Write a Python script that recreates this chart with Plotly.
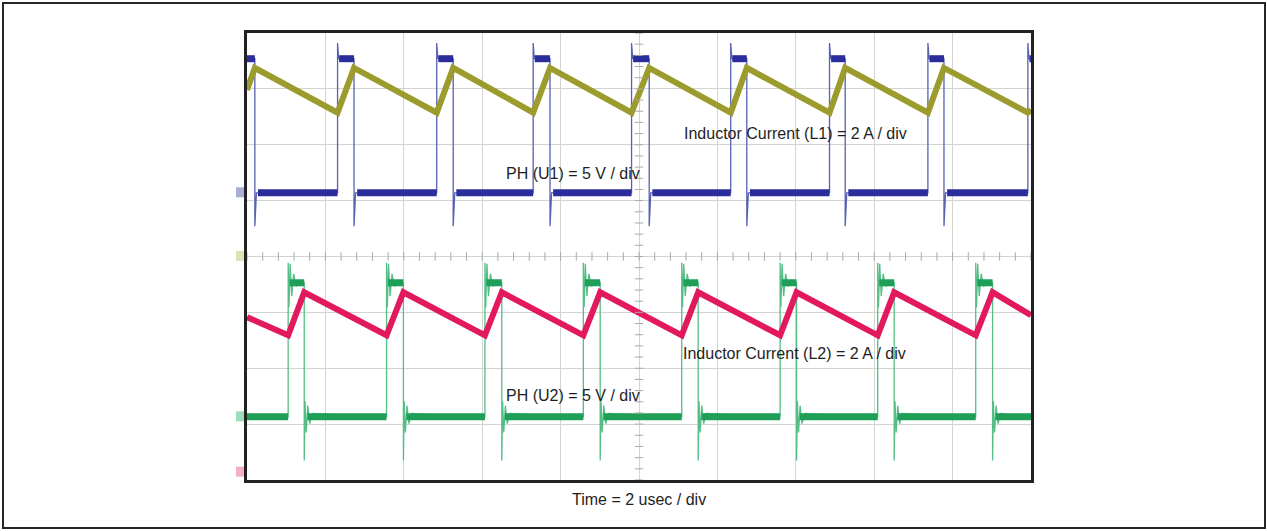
import numpy as np
import plotly.graph_objects as go

# ---- Time base: 2 us/div, 10 divisions -------------------------------------
T_SPAN_US = 20.0
N_XDIV, N_YDIV = 10, 8

# ---- Channel scales and ground-reference offsets (divisions from centre) ---
PH_VOLTS_PER_DIV = 5.0
IL_AMPS_PER_DIV = 2.0
U1_OFFSET_DIV = 1.14
L1_OFFSET_DIV = 0.0
U2_OFFSET_DIV = -2.87
L2_OFFSET_DIV = -3.86

# ---- Phase node U1: switching edges (us) and levels (V) --------------------
u1_rise_us = [2.31, 4.84, 7.30, 9.81, 12.34, 14.86, 17.37, 19.92]
u1_fall_us = [0.20, 2.73, 5.26, 7.73, 10.26, 12.75, 15.26, 17.78]
u1_low_v, u1_high_v = 0.0, 12.0
u1_spike_v, u1_undershoot_v = 13.4, -3.0

# ---- Phase node U2: switching edges (us) and levels (V) --------------------
u2_rise_us = [1.05, 3.56, 6.07, 8.58, 11.09, 13.60, 16.09, 18.59]
u2_fall_us = [1.46, 3.99, 6.50, 9.01, 11.51, 14.02, 16.51, 19.02]
u2_low_v, u2_high_v = 0.0, 12.0
u2_spike_v, u2_undershoot_v = 13.8, -3.9
# ringing after each edge: time after edge (us) and deviation from level (V)
u2_ring_dt_us = [0.02, 0.05, 0.09, 0.14, 0.20]
u2_ring_rise_v = [-2.2, 1.7, -1.2, 0.8, -0.3]
u2_ring_fall_v = [1.4, -1.4, 1.0, -0.6, 0.3]

# ---- Inductor currents (A) -------------------------------------------------
l1_valley_a, l1_peak_a = 5.15, 6.75
l1_start_a, l1_end_a = 5.96, 5.25
l2_valley_a, l2_peak_a = 4.90, 6.44
l2_start_a, l2_end_a = 5.55, 5.62

# ---- Colours ---------------------------------------------------------------
C_U1, C_U1_EDGE = "#2b2d9c", "#5661b4"
C_L1 = "#9c9b2e"
C_U2, C_U2_EDGE = "#1e9e57", "#55bd86"
C_L2 = "#e2195c"
GRID = "#d2d4d0"


def to_div_v(v, offset):
    return offset + np.asarray(v, dtype=float) / PH_VOLTS_PER_DIV


def to_div_a(a, offset):
    return offset + np.asarray(a, dtype=float) / IL_AMPS_PER_DIV


def current_vertices(rise, fall, valley, peak, start, end):
    """Sawtooth: valley at each turn-on edge, peak at each turn-off edge."""
    events = sorted([(t, valley) for t in rise] + [(t, peak) for t in fall])
    t = [0.0] + [e[0] for e in events] + [T_SPAN_US]
    i = [start] + [e[1] for e in events] + [end]
    return t, i


def phase_vertices(rise, fall, low, high, spike, under,
                   ring_dt=None, ring_rise=None, ring_fall=None):
    """Full edge trace plus the flat plateau segments of a switch node."""
    edges = sorted([(t, "r") for t in rise] + [(t, "f") for t in fall])
    state_high = edges[0][1] == "f"
    t, v = [0.0], [high if state_high else low]
    pt, pv = [0.0], [high if state_high else low]
    for te, kind in edges:
        if kind == "r":
            t += [te, te]
            v += [low, spike]
            pt += [te, None, te + 0.04]
            pv += [low, None, high]
            if ring_dt:
                t += [te + d for d in ring_dt]
                v += [high + r for r in ring_rise]
            else:
                t += [te + 0.03]
                v += [high]
        else:
            t += [te, te]
            v += [high, under]
            pt += [te, None, te + 0.08]
            pv += [high, None, low]
            if ring_dt:
                t += [te + d for d in ring_dt]
                v += [low + r for r in ring_fall]
            else:
                t += [te + 0.04]
                v += [low]
    last = edges[-1][1]
    end_level = high if last == "r" else low
    t.append(T_SPAN_US)
    v.append(end_level)
    pt.append(T_SPAN_US)
    pv.append(end_level)
    return t, v, pt, pv


fig = go.Figure()

# ---- Inductor currents ----------------------------------------------------
t1, i1 = current_vertices(u1_rise_us, u1_fall_us, l1_valley_a, l1_peak_a,
                          l1_start_a, l1_end_a)
t2, i2 = current_vertices(u2_rise_us, u2_fall_us, l2_valley_a, l2_peak_a,
                          l2_start_a, l2_end_a)

# ---- Switch nodes ---------------------------------------------------------
ut1, uv1, up1t, up1v = phase_vertices(u1_rise_us, u1_fall_us, u1_low_v,
                                      u1_high_v, u1_spike_v, u1_undershoot_v)
ut2, uv2, up2t, up2v = phase_vertices(u2_rise_us, u2_fall_us, u2_low_v,
                                      u2_high_v, u2_spike_v, u2_undershoot_v,
                                      u2_ring_dt_us, u2_ring_rise_v,
                                      u2_ring_fall_v)


def div_or_none(vals, fn, off):
    return [None if x is None else float(fn(x, off)) for x in vals]


# thin edges
fig.add_trace(go.Scatter(x=ut1, y=to_div_v(uv1, U1_OFFSET_DIV), mode="lines",
                         line=dict(color=C_U1_EDGE, width=1.3),
                         hoverinfo="skip"))
fig.add_trace(go.Scatter(x=ut2, y=to_div_v(uv2, U2_OFFSET_DIV), mode="lines",
                         line=dict(color=C_U2_EDGE, width=1.3),
                         hoverinfo="skip"))
# noisy plateau bands
fig.add_trace(go.Scatter(x=up1t, y=div_or_none(up1v, to_div_v, U1_OFFSET_DIV),
                         mode="lines", connectgaps=False,
                         line=dict(color=C_U1, width=7), hoverinfo="skip"))
fig.add_trace(go.Scatter(x=up2t, y=div_or_none(up2v, to_div_v, U2_OFFSET_DIV),
                         mode="lines", connectgaps=False,
                         line=dict(color=C_U2, width=7), hoverinfo="skip"))
# currents on top
fig.add_trace(go.Scatter(x=t1, y=to_div_a(i1, L1_OFFSET_DIV), mode="lines",
                         line=dict(color=C_L1, width=6), hoverinfo="skip"))
fig.add_trace(go.Scatter(x=t2, y=to_div_a(i2, L2_OFFSET_DIV), mode="lines",
                         line=dict(color=C_L2, width=6), hoverinfo="skip"))

# ---- Graticule tick marks on centre lines --------------------------------
xdiv = T_SPAN_US / N_XDIV
hx = np.arange(0, T_SPAN_US + 1e-9, xdiv / 5)
vy = np.arange(-N_YDIV / 2, N_YDIV / 2 + 1e-9, 0.2)
fig.add_trace(go.Scatter(x=hx, y=np.zeros_like(hx), mode="markers",
                         marker=dict(symbol="line-ns", size=6,
                                     line=dict(color="#a8aaa6", width=1)),
                         hoverinfo="skip"))
fig.add_trace(go.Scatter(x=np.full_like(vy, T_SPAN_US / 2), y=vy,
                         mode="markers",
                         marker=dict(symbol="line-ew", size=6,
                                     line=dict(color="#a8aaa6", width=1)),
                         hoverinfo="skip"))

W, H = 1267, 531
box_l, box_r, box_t, box_b = 247, 1031, 33, 480

axis_common = dict(showgrid=True, gridcolor=GRID, gridwidth=1, zeroline=False,
                   showticklabels=False, ticks="", showline=True, mirror=True,
                   linecolor="#222222", linewidth=2.5, fixedrange=True)
fig.update_layout(
    width=W, height=H,
    margin=dict(l=0, r=0, t=0, b=0),
    paper_bgcolor="white", plot_bgcolor="white",
    showlegend=False,
    xaxis=dict(domain=[box_l / W, box_r / W], range=[0, T_SPAN_US],
               dtick=xdiv, tick0=0, **axis_common),
    yaxis=dict(domain=[1 - box_b / H, 1 - box_t / H],
               range=[-N_YDIV / 2, N_YDIV / 2], dtick=1, tick0=0,
               **axis_common),
)

# outer frame
fig.add_shape(type="rect", xref="paper", yref="paper",
              x0=3 / W, x1=1 - 2 / W, y0=3 / H, y1=1 - 3 / H,
              line=dict(color="#262626", width=2))

# channel ground markers on the left of the graticule
for off, col in [(U1_OFFSET_DIV, "#a9aed8"), (L1_OFFSET_DIV, "#e2e2b0"),
                 (U2_OFFSET_DIV, "#9fdcbb"), (L2_OFFSET_DIV, "#f3b0c8")]:
    fig.add_shape(type="rect", xref="paper", yref="y",
                  x0=236 / W, x1=244 / W, y0=off - 0.08, y1=off + 0.1,
                  line=dict(width=0), fillcolor=col)

FONT = dict(family="Arial, Liberation Sans, sans-serif", size=16,
            color="#1e1e1e")
labels = [
    ("Inductor Current (L1) = 2 A / div", 11.10, 2.21),
    ("PH (U1) = 5 V / div", 6.56, 1.48),
    ("Inductor Current (L2) = 2 A / div", 11.07, -1.73),
    ("PH (U2) = 5 V / div", 6.56, -2.49),
]
for txt, x, y in labels:
    fig.add_annotation(text=txt, x=x, y=y, xref="x", yref="y",
                       xanchor="left", yanchor="middle", showarrow=False,
                       font=FONT)
fig.add_annotation(text="Time = 2 usec / div", x=639 / W, y=1 - 500 / H,
                   xref="paper", yref="paper", xanchor="center",
                   yanchor="middle", showarrow=False, font=FONT)

fig.write_html("out.html")
